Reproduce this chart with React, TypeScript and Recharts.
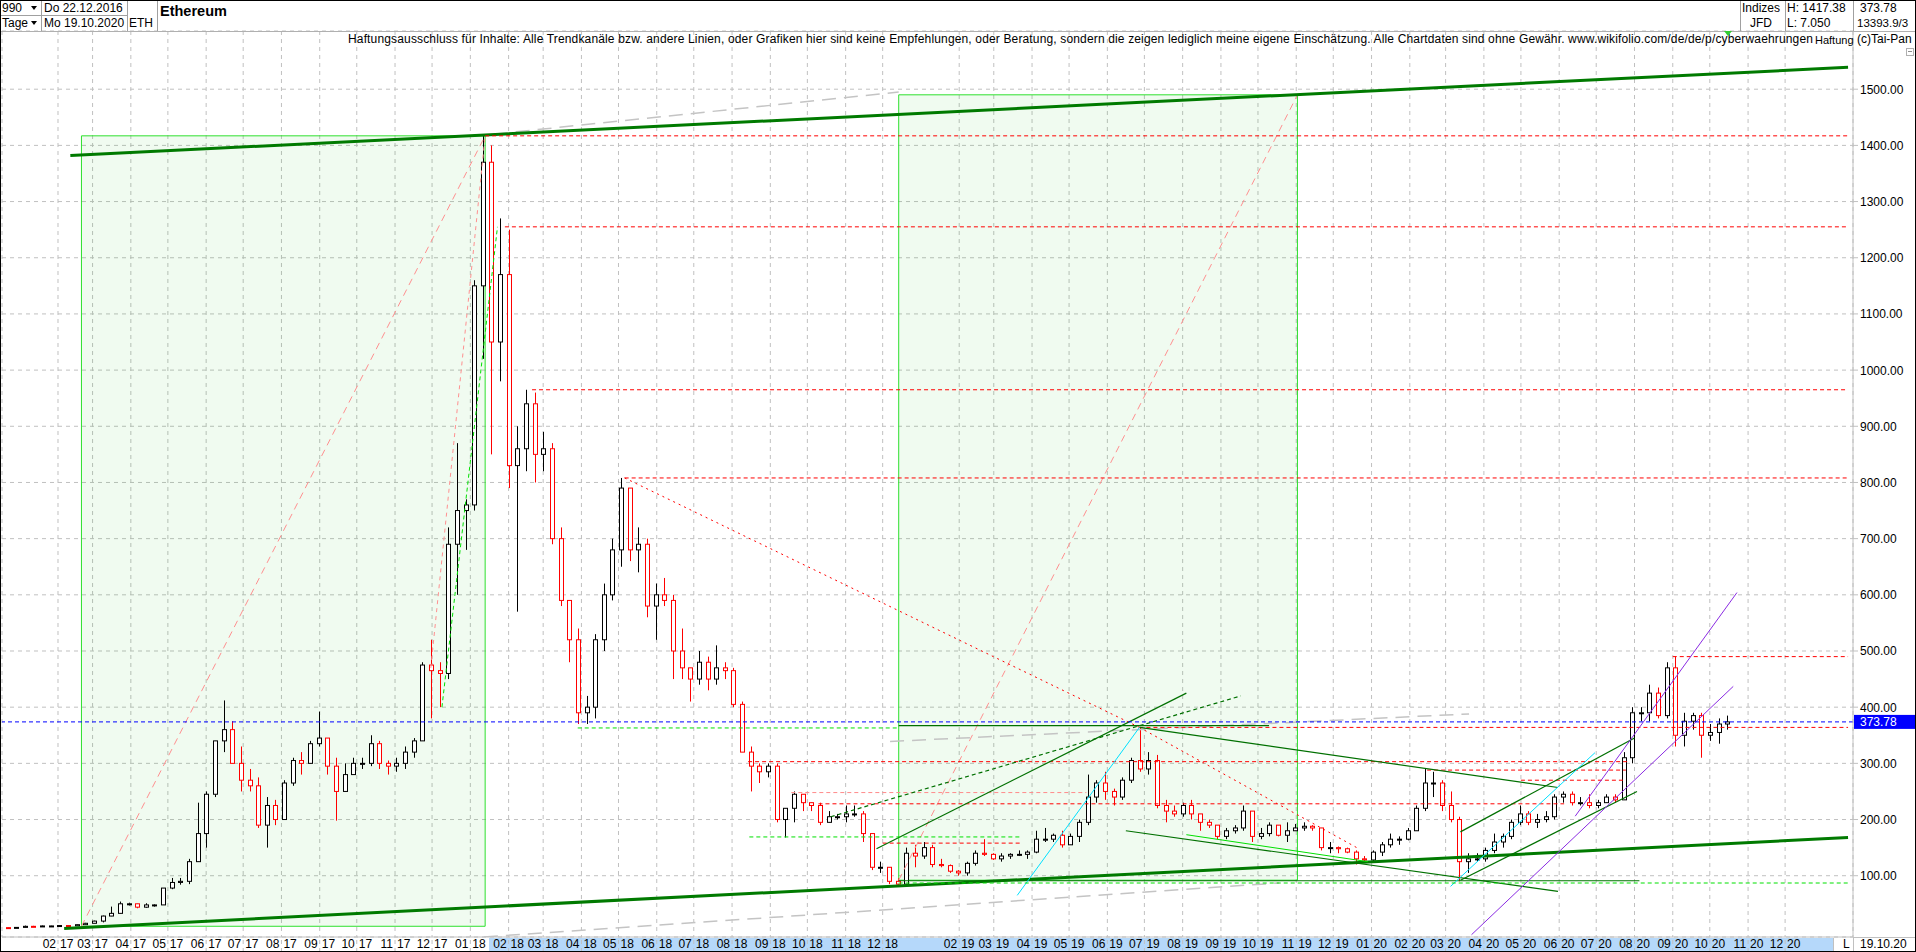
import React from 'react';
import { ComposedChart, Bar, XAxis, YAxis, CartesianGrid, ReferenceLine, ReferenceArea } from 'recharts';

const FONT = '"Liberation Sans", Arial, Helvetica, sans-serif';
const DAY_MS = 86400000;
const dayOf = (s: string) => Date.parse(s + 'T00:00:00Z') / DAY_MS;

// ---- weekly OHLC [week (centre), open, high, low, close]
const ethWeekly: [string, number, number, number, number][] = [
  ['2016-12-22', 7.6, 8.0, 7.05, 7.2], ['2016-12-29', 7.2, 8.3, 7.1, 8.0], ['2017-01-05', 8.0, 11.2, 8.0, 9.9],
  ['2017-01-12', 9.9, 10.8, 9.5, 9.7], ['2017-01-19', 9.7, 11.3, 9.6, 10.6], ['2017-01-26', 10.6, 10.9, 10.4, 10.6],
  ['2017-02-02', 10.6, 11.8, 10.6, 11.3], ['2017-02-09', 11.3, 11.6, 10.6, 10.7], ['2017-02-16', 10.7, 12.9, 10.6, 12.8],
  ['2017-02-23', 12.8, 16.0, 12.7, 15.3], ['2017-03-02', 15.3, 20.0, 15.3, 19.2], ['2017-03-09', 19.2, 29.0, 16.9, 28.2],
  ['2017-03-16', 28.2, 45, 28, 33], ['2017-03-23', 33, 54, 33, 50], ['2017-03-30', 50, 52, 47, 50],
  ['2017-04-06', 50, 50, 42, 44], ['2017-04-13', 44, 51, 43, 48], ['2017-04-20', 48, 49, 45, 48],
  ['2017-04-27', 48, 78, 48, 78], ['2017-05-04', 78, 96, 76, 88], ['2017-05-11', 88, 96, 84, 90],
  ['2017-05-18', 90, 130, 85, 125], ['2017-05-25', 125, 230, 125, 175], ['2017-06-01', 175, 250, 150, 245],
  ['2017-06-08', 245, 340, 240, 340], ['2017-06-15', 340, 412, 320, 360], ['2017-06-22', 360, 375, 300, 300],
  ['2017-06-29', 300, 330, 250, 270], ['2017-07-06', 270, 290, 250, 260], ['2017-07-13', 260, 275, 185, 190],
  ['2017-07-20', 190, 240, 150, 225], ['2017-07-27', 225, 235, 190, 200], ['2017-08-03', 200, 270, 200, 265],
  ['2017-08-10', 265, 310, 260, 305], ['2017-08-17', 305, 320, 280, 300], ['2017-08-24', 300, 340, 300, 335],
  ['2017-08-31', 335, 392, 330, 345], ['2017-09-07', 345, 345, 280, 295], ['2017-09-14', 295, 310, 198, 250],
  ['2017-09-21', 250, 300, 250, 280], ['2017-09-28', 280, 310, 280, 300], ['2017-10-05', 300, 310, 290, 300],
  ['2017-10-12', 300, 350, 295, 335], ['2017-10-19', 335, 340, 290, 300], ['2017-10-26', 300, 305, 280, 295],
  ['2017-11-02', 295, 310, 285, 300], ['2017-11-09', 300, 330, 290, 320], ['2017-11-16', 320, 345, 310, 340],
  ['2017-11-23', 340, 480, 340, 475], ['2017-11-30', 475, 520, 380, 465], ['2017-12-07', 465, 480, 400, 460],
  ['2017-12-14', 460, 720, 450, 690], ['2017-12-21', 690, 870, 600, 750], ['2017-12-28', 750, 770, 680, 760],
  ['2018-01-04', 760, 1160, 750, 1150], ['2018-01-11', 1150, 1417, 1020, 1370], ['2018-01-18', 1370, 1400, 850, 1050],
  ['2018-01-25', 1050, 1270, 980, 1170], ['2018-02-01', 1170, 1250, 790, 830], ['2018-02-08', 830, 900, 570, 860],
  ['2018-02-15', 860, 965, 820, 940], ['2018-02-22', 940, 960, 800, 850], ['2018-03-01', 850, 890, 820, 860],
  ['2018-03-08', 860, 870, 690, 700], ['2018-03-15', 700, 720, 580, 590], ['2018-03-22', 590, 590, 480, 520],
  ['2018-03-29', 520, 540, 370, 390], ['2018-04-05', 390, 420, 370, 400], ['2018-04-12', 400, 530, 380, 520],
  ['2018-04-19', 520, 620, 500, 600], ['2018-04-26', 600, 700, 590, 680], ['2018-05-03', 680, 808, 650, 790],
  ['2018-05-10', 790, 790, 660, 680], ['2018-05-17', 680, 720, 640, 690], ['2018-05-24', 690, 700, 560, 580],
  ['2018-05-31', 580, 620, 520, 600], ['2018-06-07', 600, 630, 580, 590], ['2018-06-14', 590, 600, 450, 500],
  ['2018-06-21', 500, 540, 450, 470], ['2018-06-28', 470, 470, 410, 450], ['2018-07-05', 450, 500, 440, 480],
  ['2018-07-12', 480, 490, 430, 450], ['2018-07-19', 450, 510, 440, 470], ['2018-07-26', 470, 480, 450, 465],
  ['2018-08-02', 465, 470, 400, 405], ['2018-08-09', 405, 410, 320, 320], ['2018-08-16', 320, 330, 250, 295],
  ['2018-08-23', 295, 300, 265, 285], ['2018-08-30', 285, 300, 275, 295], ['2018-09-06', 295, 300, 195, 200],
  ['2018-09-13', 200, 220, 168, 220], ['2018-09-20', 220, 250, 195, 245], ['2018-09-27', 245, 245, 215, 230],
  ['2018-10-04', 230, 230, 215, 225], ['2018-10-11', 225, 230, 190, 195], ['2018-10-18', 195, 215, 195, 205],
  ['2018-10-25', 205, 210, 200, 205], ['2018-11-01', 205, 225, 195, 210], ['2018-11-08', 210, 225, 205, 210],
  ['2018-11-15', 210, 215, 160, 175], ['2018-11-22', 175, 175, 110, 115], ['2018-11-29', 115, 125, 105, 115],
  ['2018-12-06', 115, 115, 85, 90], ['2018-12-13', 90, 95, 84, 85], ['2018-12-20', 85, 150, 85, 140],
  ['2018-12-27', 140, 155, 115, 135], ['2019-01-03', 135, 160, 130, 150], ['2019-01-10', 150, 155, 115, 120],
  ['2019-01-17', 120, 130, 115, 118], ['2019-01-24', 118, 120, 105, 108], ['2019-01-31', 108, 110, 100, 105],
  ['2019-02-07', 105, 125, 100, 122], ['2019-02-14', 122, 145, 118, 140], ['2019-02-21', 140, 165, 135, 138],
  ['2019-02-28', 138, 140, 128, 130], ['2019-03-07', 130, 140, 125, 135], ['2019-03-14', 135, 140, 130, 138],
  ['2019-03-21', 138, 145, 135, 138], ['2019-03-28', 138, 145, 130, 142], ['2019-04-04', 142, 180, 140, 165],
  ['2019-04-11', 165, 185, 160, 165], ['2019-04-18', 165, 175, 160, 172], ['2019-04-25', 172, 180, 150, 155],
  ['2019-05-02', 155, 175, 155, 170], ['2019-05-09', 170, 200, 160, 195], ['2019-05-16', 195, 280, 190, 240],
  ['2019-05-23', 240, 270, 230, 265], ['2019-05-30', 265, 285, 235, 250], ['2019-06-06', 250, 255, 225, 240],
  ['2019-06-13', 240, 275, 235, 270], ['2019-06-20', 270, 310, 265, 305], ['2019-06-27', 305, 364, 285, 290],
  ['2019-07-04', 290, 320, 280, 305], ['2019-07-11', 305, 315, 220, 225], ['2019-07-18', 225, 235, 195, 215],
  ['2019-07-25', 215, 225, 205, 210], ['2019-08-01', 210, 230, 205, 225], ['2019-08-08', 225, 235, 200, 210],
  ['2019-08-15', 210, 210, 180, 195], ['2019-08-22', 195, 200, 185, 190], ['2019-08-29', 190, 190, 165, 170],
  ['2019-09-05', 170, 185, 165, 180], ['2019-09-12', 180, 190, 175, 185], ['2019-09-19', 185, 225, 180, 215],
  ['2019-09-26', 215, 215, 160, 170], ['2019-10-03', 170, 185, 165, 175], ['2019-10-10', 175, 195, 170, 190],
  ['2019-10-17', 190, 190, 170, 172], ['2019-10-24', 172, 195, 160, 180], ['2019-10-31', 180, 192, 180, 185],
  ['2019-11-07', 185, 195, 180, 188], ['2019-11-14', 188, 190, 180, 185], ['2019-11-21', 185, 185, 145, 150],
  ['2019-11-28', 150, 160, 140, 150], ['2019-12-05', 150, 152, 140, 148], ['2019-12-12', 148, 150, 140, 142],
  ['2019-12-19', 142, 145, 120, 130], ['2019-12-26', 130, 135, 125, 128], ['2020-01-02', 128, 145, 125, 142],
  ['2020-01-09', 142, 160, 135, 155], ['2020-01-16', 155, 175, 150, 165], ['2020-01-23', 165, 170, 155, 165],
  ['2020-01-30', 165, 185, 163, 180], ['2020-02-06', 180, 225, 180, 220], ['2020-02-13', 220, 290, 215, 265],
  ['2020-02-20', 265, 285, 240, 265], ['2020-02-27', 265, 270, 215, 225], ['2020-03-05', 225, 250, 195, 200],
  ['2020-03-12', 200, 205, 90, 125], ['2020-03-19', 125, 140, 105, 130], ['2020-03-26', 130, 140, 125, 130],
  ['2020-04-02', 130, 150, 125, 145], ['2020-04-09', 145, 175, 140, 160], ['2020-04-16', 160, 175, 150, 170],
  ['2020-04-23', 170, 200, 165, 195], ['2020-04-30', 195, 225, 190, 210], ['2020-05-07', 210, 215, 190, 195],
  ['2020-05-14', 195, 210, 185, 200], ['2020-05-21', 200, 215, 195, 205], ['2020-05-28', 205, 245, 200, 240],
  ['2020-06-04', 240, 250, 230, 245], ['2020-06-11', 245, 250, 225, 230], ['2020-06-18', 230, 240, 225, 230],
  ['2020-06-25', 230, 245, 220, 225], ['2020-07-02', 225, 235, 220, 230], ['2020-07-09', 230, 245, 230, 240],
  ['2020-07-16', 240, 245, 230, 235], ['2020-07-23', 235, 320, 235, 310], ['2020-07-30', 310, 400, 300, 390],
  ['2020-08-06', 390, 400, 375, 390], ['2020-08-13', 390, 440, 375, 425], ['2020-08-20', 425, 435, 380, 385],
  ['2020-08-27', 385, 480, 380, 470], ['2020-09-03', 470, 490, 330, 350], ['2020-09-10', 350, 390, 330, 375],
  ['2020-09-17', 375, 390, 360, 385], ['2020-09-24', 385, 390, 310, 350], ['2020-10-01', 350, 370, 340, 355],
  ['2020-10-08', 355, 380, 335, 370], ['2020-10-15', 370, 385, 360, 373.78],
];

// ---- axis ticks
const monthTicks = [
  '2017-02-01', '2017-03-01', '2017-04-01', '2017-05-01', '2017-06-01', '2017-07-01', '2017-08-01', '2017-09-01',
  '2017-10-01', '2017-11-01', '2017-12-01', '2018-01-01', '2018-02-01', '2018-03-01', '2018-04-01', '2018-05-01',
  '2018-06-01', '2018-07-01', '2018-08-01', '2018-09-01', '2018-10-01', '2018-11-01', '2018-12-01', '2019-02-01',
  '2019-03-01', '2019-04-01', '2019-05-01', '2019-06-01', '2019-07-01', '2019-08-01', '2019-09-01', '2019-10-01',
  '2019-11-01', '2019-12-01', '2020-01-01', '2020-02-01', '2020-03-01', '2020-04-01', '2020-05-01', '2020-06-01',
  '2020-07-01', '2020-08-01', '2020-09-01', '2020-10-01', '2020-11-01', '2020-12-01',
];
const priceTicks = [100, 200, 300, 400, 500, 600, 700, 800, 900, 1000, 1100, 1200, 1300, 1400, 1500];
const lastClose = 373.78;

// ---- drawn analysis objects (date, value)
const boxes: [string, number, string, number][] = [
  ['2017-02-20', 10, '2018-01-13', 1417],
  ['2018-12-14', 92, '2019-11-02', 1490],
];
const thickTrends: [string, number, string, number][] = [
  ['2017-02-11', 1382, '2021-01-21', 1539],
  ['2017-02-06', 6, '2021-01-21', 168],
];
const redLevels: [string, number, string][] = [
  ['2018-01-13', 1417, '2021-01-21'], ['2018-01-29', 1255, '2021-01-21'], ['2018-02-20', 965, '2021-01-21'],
  ['2018-05-06', 808, '2021-01-21'], ['2020-09-01', 490, '2021-01-21'], ['2019-06-27', 364, '2021-01-21'],
  ['2018-08-14', 303, '2020-07-27'], ['2018-10-10', 228, '2020-06-05'], ['2020-02-15', 288, '2020-07-25'],
  ['2020-05-01', 270, '2020-07-25'], ['2018-12-01', 158, '2019-03-22'],
];
const pinkLevels: [string, number, string][] = [['2018-09-18', 248, '2019-05-15']];
const redDotted: [string, number, string, number][] = [
  ['2018-05-06', 808, '2019-06-27', 364],
  ['2019-06-27', 364, '2019-12-20', 150],
];
const pinkDashed: [string, number, string, number][] = [
  ['2017-11-30', 470, '2018-01-13', 1417],
];
const darkGreenLines: [string, number, string, number][] = [
  ['2019-06-27', 364, '2020-05-31', 257],
  ['2018-11-26', 148, '2019-08-04', 425],
  ['2018-12-14', 367, '2019-10-10', 367],
  ['2018-12-14', 91, '2020-08-05', 91],
  ['2019-06-16', 180, '2020-05-31', 72],
  ['2020-03-13', 92, '2020-08-03', 250],
  ['2020-03-13', 178, '2020-08-01', 345],
];
const darkGreenDashed: [string, number, string, number][] = [
  ['2018-10-20', 205, '2019-09-17', 420],
];
const brightGreenLines: [string, number, string, number][] = [
  ['2019-08-04', 173, '2019-12-29', 125],
];
const cyanLines: [string, number, string, number][] = [
  ['2019-03-20', 65, '2019-06-27', 364],
  ['2020-03-05', 81, '2020-06-30', 319],
];
const greenDashed: [string, number, string, number][] = [
  ['2018-03-29', 363, '2018-12-14', 363],
  ['2018-12-14', 87, '2021-01-21', 87],
  ['2018-08-15', 169, '2019-03-22', 169],
  ['2017-12-09', 400, '2018-01-23', 1255],
];
const purpleLines: [string, number, string, number][] = [
  ['2020-03-22', -5, '2020-10-20', 437],
  ['2020-06-14', 206, '2020-10-23', 604],
];
const greyLong: [string, number, string, number][] = [
  ['2018-01-20', 1420, '2018-12-14', 1495],
  ['2018-01-12', -9, '2019-10-18', 87],
  ['2018-12-07', 339, '2020-03-20', 388],
];

const candleRows = ethWeekly.map(([d, o, h, l, c]) => ({ t: dayOf(d), o, h, l, c, range: [l, h] }));

const Candle = (props: any) => {
  const { x, y, width, height, payload } = props;
  if (!payload || x == null) return null;
  const { o, h, l, c } = payload;
  const top = Math.min(y, y + height);
  const bot = Math.max(y, y + height);
  const span = h - l || 1;
  const py = (v: number) => top + ((h - v) / span) * (bot - top);
  const cx = Math.round(x + width / 2) + 0.5;
  const color = c >= o ? '#000000' : '#ff0000';
  const bt = py(Math.max(o, c));
  const bb = py(Math.min(o, c));
  const bw = 4;
  return (
    <g>
      <line x1={cx} x2={cx} y1={top} y2={bot} stroke={color} strokeWidth={1} />
      <rect x={cx - bw / 2} y={bt} width={bw} height={Math.max(1, bb - bt)} fill="#ffffff" stroke={color} strokeWidth={1} />
    </g>
  );
};

const MonthTick = (props: any) => {
  const { x, payload } = props;
  const d = new Date(payload.value * DAY_MS);
  const mm = String(d.getUTCMonth() + 1).padStart(2, '0');
  const yy = String(d.getUTCFullYear() % 100).padStart(2, '0');
  return (
    <g fontFamily={FONT} fontSize={12} fill="#000">
      <text x={x - 2} y={948} textAnchor="end">{mm}</text>
      <text x={x + 2} y={948} textAnchor="start">{yy}</text>
    </g>
  );
};

const PriceTick = (props: any) => {
  const { y, payload } = props;
  return (
    <text x={1860} y={y + 4.5} fontFamily={FONT} fontSize={12} fill="#000" textAnchor="start">
      {Number(payload.value).toFixed(2)}
    </text>
  );
};

const PriceTag = (props: any) => {
  const vb = props.viewBox;
  if (!vb) return null;
  const y = vb.y;
  return (
    <g>
      <rect x={1854} y={y - 7} width={62} height={14} fill="#0000ff" />
      <text x={1860} y={y + 4.5} fontFamily={FONT} fontSize={12} fill="#ffffff">{lastClose.toFixed(2)}</text>
    </g>
  );
};

const seg = (a: [string, number, string, number]) => [
  { x: dayOf(a[0]), y: a[1] },
  { x: dayOf(a[2]), y: a[3] },
];

const abs = (s: React.CSSProperties): React.CSSProperties => ({ position: 'absolute', ...s });
const hLine = (left: number, top: number, width: number, color = '#a0a0a0') => (
  <div style={abs({ left, top, width, height: 1, background: color })} />
);
const vLine = (left: number, top: number, height: number, color = '#a0a0a0') => (
  <div style={abs({ left, top, width: 1, height, background: color })} />
);
const txt = (left: number, top: number, s: string, extra: React.CSSProperties = {}) => (
  <div style={abs({ left, top, fontSize: 12, lineHeight: '14px', whiteSpace: 'nowrap', color: '#000', ...extra })}>{s}</div>
);
const tri = (left: number, top: number) => (
  <div style={abs({ left, top, width: 0, height: 0, borderLeft: '3px solid transparent', borderRight: '3px solid transparent', borderTop: '4px solid #000' })} />
);

export default function App() {
  return (
    <div style={abs({ left: 0, top: 0, width: 1916, height: 952, background: '#fff', fontFamily: FONT, overflow: 'hidden' })}>
      {/* bottom axis band */}
      <div style={abs({ left: 489, top: 938, width: 1344, height: 13, background: '#b5d8fa' })} />
      <ComposedChart
        width={1916}
        height={952}
        data={candleRows}
        margin={{ top: 31, right: 0, bottom: 0, left: 2 }}
        style={{ position: 'absolute', left: 0, top: 0 }}
      >
        <CartesianGrid stroke="#c0c0c0" strokeDasharray="4 4" />
        <XAxis
          dataKey="t"
          type="number"
          domain={[17152.64, 18652.0]}
          allowDataOverflow
          ticks={monthTicks.map(dayOf)}
          interval={0}
          height={15}
          tick={<MonthTick />}
          tickSize={15}
          tickLine={{ stroke: '#c0c0c0', strokeDasharray: '4 4' }}
          axisLine={{ stroke: '#c0c0c0' }}
        />
        <YAxis
          orientation="right"
          type="number"
          domain={[-9.1, 1603.6]}
          allowDataOverflow
          ticks={priceTicks}
          interval={0}
          width={63}
          tick={<PriceTick />}
          tickSize={5}
          tickLine={{ stroke: '#c0c0c0' }}
          axisLine={{ stroke: '#c0c0c0' }}
        />
        {boxes.map((b, i) => (
          <ReferenceArea key={'bx' + i} x1={dayOf(b[0])} x2={dayOf(b[2])} y1={b[1]} y2={b[3]}
            fill="#00c000" fillOpacity={0.06} stroke="#2ee02e" strokeWidth={1} ifOverflow="hidden" />
        ))}
        {boxes.map((b, i) => (
          <ReferenceLine key={'bd' + i} segment={seg(b)} stroke="#ff9090" strokeDasharray="7 5" ifOverflow="hidden" />
        ))}
        {greyLong.map((s, i) => (
          <ReferenceLine key={'gl' + i} segment={seg(s)} stroke="#c4c4c4" strokeWidth={1.5} strokeDasharray="14 8" ifOverflow="hidden" />
        ))}
        {thickTrends.map((s, i) => (
          <ReferenceLine key={'tt' + i} segment={seg(s)} stroke="#007a00" strokeWidth={3} ifOverflow="hidden" />
        ))}
        {redLevels.map((r, i) => (
          <ReferenceLine key={'rl' + i} segment={[{ x: dayOf(r[0]), y: r[1] }, { x: dayOf(r[2]), y: r[1] }]}
            stroke="#ff0000" strokeDasharray="4 3" ifOverflow="hidden" />
        ))}
        {pinkLevels.map((r, i) => (
          <ReferenceLine key={'pl' + i} segment={[{ x: dayOf(r[0]), y: r[1] }, { x: dayOf(r[2]), y: r[1] }]}
            stroke="#ff8a8a" strokeDasharray="4 3" ifOverflow="hidden" />
        ))}
        {redDotted.map((s, i) => (
          <ReferenceLine key={'rd' + i} segment={seg(s)} stroke="#ff0000" strokeDasharray="2 4" ifOverflow="hidden" />
        ))}
        {pinkDashed.map((s, i) => (
          <ReferenceLine key={'pd' + i} segment={seg(s)} stroke="#ff9090" strokeDasharray="4 4" ifOverflow="hidden" />
        ))}
        {darkGreenLines.map((s, i) => (
          <ReferenceLine key={'dg' + i} segment={seg(s)} stroke="#007000" strokeWidth={1.2} ifOverflow="hidden" />
        ))}
        {darkGreenDashed.map((s, i) => (
          <ReferenceLine key={'dd' + i} segment={seg(s)} stroke="#007000" strokeWidth={1.2} strokeDasharray="4 3" ifOverflow="hidden" />
        ))}
        {brightGreenLines.map((s, i) => (
          <ReferenceLine key={'bg' + i} segment={seg(s)} stroke="#00e000" strokeWidth={1} ifOverflow="hidden" />
        ))}
        {cyanLines.map((s, i) => (
          <ReferenceLine key={'cy' + i} segment={seg(s)} stroke="#00e0ff" strokeWidth={1} ifOverflow="hidden" />
        ))}
        {greenDashed.map((s, i) => (
          <ReferenceLine key={'gd' + i} segment={seg(s)} stroke="#00e000" strokeDasharray="4 3" ifOverflow="hidden" />
        ))}
        {purpleLines.map((s, i) => (
          <ReferenceLine key={'pu' + i} segment={seg(s)} stroke="#8a2be2" strokeWidth={1} ifOverflow="hidden" />
        ))}
        <ReferenceLine y={lastClose} stroke="#0000ff" strokeDasharray="4 3" label={<PriceTag />} ifOverflow="visible" />
        <Bar dataKey="range" barSize={5} shape={<Candle />} isAnimationActive={false} />
      </ComposedChart>

      {/* header */}
      {hLine(0, 31, 1916, '#b0b0b0')}
      {hLine(0, 15, 127)}
      {vLine(41, 0, 31)}
      {vLine(127, 0, 31)}
      {vLine(157, 0, 31)}
      {vLine(1740, 0, 31)}
      {vLine(1785, 0, 31)}
      {vLine(1853, 0, 31)}
      {txt(2, 1, '990')}
      {tri(31, 6)}
      {txt(44, 1, 'Do 22.12.2016')}
      {txt(2, 16, 'Tage')}
      {tri(31, 21)}
      {txt(44, 16, 'Mo 19.10.2020')}
      {txt(129, 16, 'ETH')}
      {txt(160, 3, 'Ethereum', { fontWeight: 'bold', fontSize: 14.5, lineHeight: '16px' })}
      {txt(1742, 1, 'Indizes')}
      {txt(1750, 16, 'JFD')}
      {txt(1787, 1, 'H: 1417.38')}
      {txt(1787, 16, 'L: 7.050')}
      {txt(1860, 1, '373.78')}
      {txt(1857, 16, '13393.9/3', { fontSize: 11.5 })}
      {txt(348, 32, 'Haftungsausschluss für Inhalte: Alle Trendkanäle bzw. andere Linien, oder Grafiken hier sind keine Empfehlungen, oder Beratung, sondern die zeigen lediglich meine eigene Einschätzung. Alle Chartdaten sind ohne Gewähr.  www.wikifolio.com/de/de/p/cyberwaehrungen', { fontSize: 12, letterSpacing: '0.15px' })}
      {txt(1815, 33, 'Haftung', { fontSize: 11 })}
      {txt(1857, 32, '(c)Tai-Pan')}
      <div style={abs({ left: 1724, top: 31, width: 0, height: 0, borderLeft: '4px solid transparent', borderRight: '4px solid transparent', borderTop: '5px solid #33cc33' })} />
      <div style={abs({ left: 1906, top: 48, width: 6, height: 6, border: '1px solid #b0b0b0' })} />
      <div style={abs({ left: 1908, top: 51, width: 4, height: 1, background: '#909090' })} />

      {/* bottom right */}
      {hLine(1853, 937, 63, '#c0c0c0')}
      {vLine(1833, 938, 14, '#c0c0c0')}
      {vLine(1853, 937, 15, '#c0c0c0')}
      {txt(1843, 937, 'L')}
      {txt(1860, 937, '19.10.20')}

      {/* frame */}
      <div style={abs({ left: 0, top: 0, width: 1916, height: 1, background: '#000' })} />
      <div style={abs({ left: 0, top: 951, width: 1916, height: 1, background: '#000' })} />
      <div style={abs({ left: 0, top: 0, width: 1, height: 952, background: '#000' })} />
      <div style={abs({ left: 1915, top: 0, width: 1, height: 952, background: '#000' })} />
    </div>
  );
}
